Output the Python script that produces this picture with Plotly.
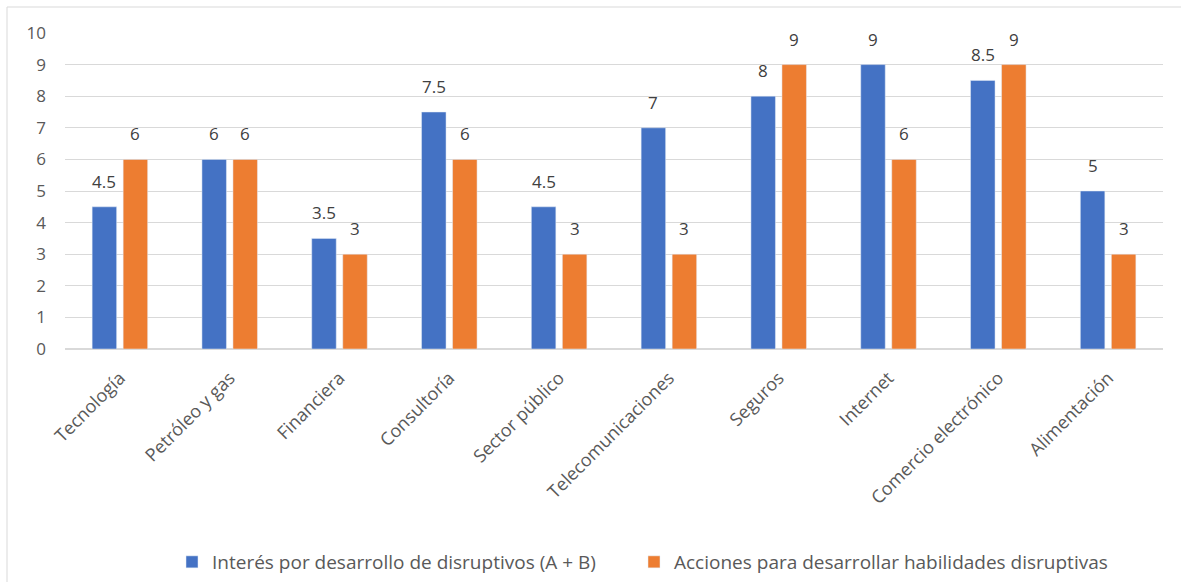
import plotly.graph_objects as go

categorias = ["Tecnología", "Petróleo y gas", "Financiera", "Consultoría", "Sector público",
              "Telecomunicaciones", "Seguros", "Internet", "Comercio electrónico", "Alimentación"]
interes = [4.5, 6, 3.5, 7.5, 4.5, 7, 8, 9, 8.5, 5]
acciones = [6, 6, 3, 6, 3, 3, 9, 6, 9, 3]

serie_a = "Interés por desarrollo de disruptivos (A + B)"
serie_b = "Acciones para desarrollar habilidades disruptivas"

W, H = 1181, 582
ml, mr, mt, mb = 65, 18, 33, 233
pw, ph = W - ml - mr, H - mt - mb

BARGAP = 0.435
GROUPGAP = 0.21
slot = (1 - BARGAP) / 2          # width of each bar slot in category units
offset = slot / 2                # distance from category center to bar center

FONT = "Open Sans, Liberation Sans, sans-serif"
TXT = "#595959"

def fmt(v):
    return f"{v:g}"

def px_x(p):
    return (p - ml) / pw

def px_y(p):
    return (mt + ph - p) / ph

fig = go.Figure()
fig.add_trace(go.Bar(x=categorias, y=interes, name=serie_a, marker_color="#4472C4",
                     legend="legend"))
fig.add_trace(go.Bar(x=categorias, y=acciones, name=serie_b, marker_color="#ED7D31",
                     legend="legend2"))

# value labels above each bar
for i, (a, b) in enumerate(zip(interes, acciones)):
    for xv, v in ((i - offset, a), (i + offset, b)):
        fig.add_annotation(x=xv, y=v, text=fmt(v), showarrow=False, yanchor="bottom",
                           yshift=12, font=dict(family=FONT, size=17, color="#404040"))

# outer chart frame (left and top edges visible)
fig.add_shape(type="rect", xref="paper", yref="paper",
              x0=px_x(7), x1=px_x(W + 20),
              y0=px_y(H + 20), y1=px_y(7),
              line=dict(color="#d9d9d9", width=1), layer="below")

legend_style = dict(orientation="h", yanchor="middle", y=px_y(562), xanchor="left",
                    font=dict(size=19, color=TXT), itemwidth=30,
                    bgcolor="rgba(0,0,0,0)", borderwidth=0)

fig.update_layout(
    width=W, height=H,
    margin=dict(l=ml, r=mr, t=mt, b=mb, autoexpand=False),
    paper_bgcolor="white", plot_bgcolor="white",
    barmode="group", bargap=BARGAP, bargroupgap=GROUPGAP,
    font=dict(family=FONT, color=TXT),
    showlegend=True,
    legend=dict(x=px_x(172), **legend_style),
    legend2=dict(x=px_x(634), **legend_style),
)
fig.update_yaxes(range=[0, 10], dtick=1, showgrid=True, gridcolor="#d9d9d9", gridwidth=1,
                 zeroline=True, zerolinecolor="#d9d9d9", showline=False, automargin=False,
                 tickfont=dict(size=17, color=TXT), ticks="", ticklabelstandoff=18)
fig.update_xaxes(tickangle=-45, tickfont=dict(size=18, color=TXT), showline=False,
                 automargin=False, ticks="", showgrid=False, ticklabelstandoff=14)

fig.write_html("out.html")
